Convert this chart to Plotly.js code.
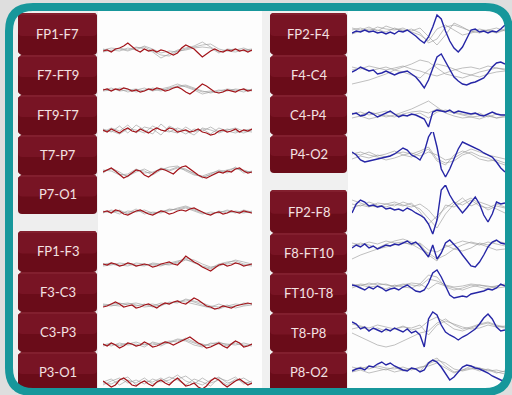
<!DOCTYPE html>
<html><head><meta charset="utf-8">
<script src="https://cdn.plot.ly/plotly-3.0.1.min.js"></script>
<style>html,body{margin:0;padding:0;background:#dedede;}#chart{width:512px;height:395px;}</style>
</head><body><div id="chart"></div>
<script>
// ---- channel names ----
const leftChannels = ['FP1-F7','F7-FT9','FT9-T7','T7-P7','P7-O1','FP1-F3','F3-C3','C3-P3','P3-O1'];
const rightChannels = ['FP2-F4','F4-C4','C4-P4','P4-O2','FP2-F8','F8-FT10','FT10-T8','T8-P8','P8-O2'];

// ---- highlighted trace values (37 samples each) ----
const fp1f7  = [-1,0,-2,1,2,4,7,3,0,-2,1,-1,0,-2,0,-1,-3,-5,-3,2,5,3,1,-3,-7,-4,-1,1,-1,-2,0,-1,1,-1,0,-2,0];
const f7ft9  = [0,1,-1,1,0,2,1,-1,0,-2,-1,1,0,2,1,-1,0,2,3,1,-2,-4,-1,3,6,4,1,-2,-3,-2,0,-1,-2,0,1,-1,0];
const ft9t7  = [1,-1,2,0,-2,1,3,0,-1,2,0,-2,1,3,1,0,3,2,-1,0,1,-1,0,2,-1,-2,-4,-3,0,1,-1,0,2,-1,1,0,2];
const t7p7   = [0,2,4,1,-3,-6,-4,-1,2,1,-3,-5,-2,1,3,2,0,-2,2,5,6,3,0,-3,-5,-6,-4,-2,0,-1,1,0,3,4,1,-1,0];
const p7o1   = [0,1,-1,2,1,-2,-3,-1,1,2,0,-2,-3,-1,1,0,-2,-1,1,2,1,3,4,2,0,-2,-3,-1,0,-2,-1,1,0,-1,1,0,-1];
const fp1f3  = [1,0,2,1,-1,0,2,1,-1,0,1,0,-2,-1,1,2,3,1,0,4,9,6,3,1,-2,-4,-6,-3,0,1,-1,0,2,1,-1,0,1];
const f3c3   = [-2,-1,1,3,1,-2,-1,0,-3,-2,0,1,-1,-3,0,2,1,3,4,2,1,4,7,5,2,-1,-2,-4,-3,-1,-2,-3,-1,0,1,2,1];
const c3p3   = [1,-1,2,0,-3,-1,2,1,-1,0,3,1,-2,-1,1,3,2,0,2,4,6,8,5,2,0,-3,-2,0,2,-1,-3,1,4,2,-2,-1,1];
const p3o1   = [2,-1,-4,-2,3,5,2,-2,-3,0,2,-1,-3,1,3,0,-2,2,5,1,-3,-2,0,-4,-6,-3,2,5,3,-1,-4,-1,2,4,1,-2,0];
const fp2f4  = [0,2,1,3,1,2,0,1,-1,1,-1,2,1,3,0,-3,-7,-10,-4,6,18,14,2,-8,-15,-19,-14,-5,3,4,1,2,0,2,1,4,8];
const f4c4   = [0,2,5,3,1,2,-2,-1,1,-1,-3,-1,0,1,-2,-5,-10,-16,-8,4,15,18,10,2,-5,-9,-12,-13,-11,-10,-8,-6,-1,5,9,10,8];
const c4p4   = [1,2,-1,0,3,1,-2,0,2,4,1,-2,0,-1,1,0,-2,-4,-12,3,5,4,3,5,2,4,3,2,1,2,0,-1,1,3,1,0,0];
const p4o2   = [5,2,-3,-5,-4,-3,-2,-1,0,1,3,6,9,7,2,0,-3,5,20,27,10,-12,-20,-12,-2,8,15,13,11,9,7,4,2,0,-5,-11,-15];
const fp2f8  = [-3,6,10,8,4,5,3,4,1,2,0,1,-1,2,0,-3,-5,-8,-14,-24,-10,20,25,15,8,2,-3,2,8,13,6,-5,-12,-4,8,6,7];
const f8ft10 = [-1,2,0,3,-1,1,-2,0,2,1,3,2,4,6,3,5,1,-4,-10,2,-12,-6,4,7,3,-2,-8,-14,-19,-20,-15,-8,0,5,7,4,3];
const ft10t8 = [2,1,-1,-3,0,-2,1,-1,-4,-2,-1,-3,0,2,-1,-4,-5,-3,4,14,17,10,1,-8,-11,-10,-9,-10,-7,-6,-5,-4,-2,-3,-1,3,1];
const t8p8   = [5,3,-2,0,-4,-1,-3,-5,-2,-4,-1,-3,-5,-2,-6,-4,-8,-20,8,15,12,2,-5,-8,-10,-13,-10,-8,-5,-2,3,9,13,8,0,-4,-3];
const p8o2   = [-3,-1,0,-2,2,1,4,6,3,5,2,0,-2,-3,0,-1,-4,-2,5,8,6,1,-6,-12,-9,-4,1,3,2,0,-1,-3,-5,-8,-10,-12,-13];

// ---- grey overlay traces (19 samples each) ----
const fp1f7Grey  = [[1,-1,2,0,3,1,-2,-8,-4,0,2,4,8,3,-2,0,1,-1,0],[-2,0,-1,2,0,4,1,-3,-1,-2,1,3,5,6,1,-1,-2,0,1],[0,2,1,-1,2,3,-1,-5,-6,-1,0,2,3,2,-3,1,0,2,-1]];
const f7ft9Grey  = [[1,-1,2,1,-2,0,1,-1,2,4,5,2,-1,-3,-1,1,0,-2,1],[-1,0,1,-2,0,2,-1,1,3,6,3,0,-4,-2,0,-1,1,0,-1],[0,2,-1,0,1,-1,2,0,1,3,4,1,-2,-1,-3,0,-1,1,0]];
const ft9t7Grey  = [[2,-1,5,-2,6,1,-3,7,0,-2,4,-1,2,-3,3,0,-2,1,2],[-1,3,0,6,-2,4,2,-4,5,1,-3,2,0,4,-1,2,0,-2,1],[1,0,-3,2,1,-2,5,1,-1,3,0,-4,3,1,-2,1,3,0,-1]];
const t7p7Grey   = [[1,3,-2,-4,0,3,-1,4,2,5,3,-2,-5,-3,0,2,4,1,0],[-1,4,0,-5,2,1,-3,2,5,6,1,-3,-4,-1,1,-1,3,2,-1],[2,1,-3,-2,3,-1,0,3,1,4,2,-1,-6,-2,2,0,5,-1,1]];
const p7o1Grey   = [[1,-1,2,-2,1,0,-2,1,2,3,5,2,-1,-2,0,1,-1,2,0],[-1,2,0,-1,3,-2,0,-1,3,2,4,1,-2,0,-1,2,0,-1,1],[0,1,-2,1,0,2,-1,0,1,4,6,3,0,-3,1,-1,1,0,-1]];
const fp1f3Grey  = [[1,2,0,-1,2,1,0,-1,2,4,6,2,-1,-3,1,3,4,1,0],[-1,0,2,1,-1,0,1,0,1,3,7,5,1,-2,-1,2,5,3,1],[0,1,-1,2,0,-1,2,1,0,2,5,3,-2,-4,0,1,2,0,-1]];
const f3c3Grey   = [[-1,1,2,0,-1,1,-2,0,2,3,5,3,0,-2,1,-2,-1,2,1],[0,-1,1,2,0,-2,-1,2,1,4,3,1,-1,-3,-4,-1,1,0,2],[1,0,-1,1,2,0,1,-1,3,2,6,4,2,-1,-2,0,-3,-1,0]];
const c3p3Grey   = [[0,2,-1,1,3,0,2,-1,3,6,5,2,-1,1,3,0,2,-1,1],[1,-1,2,0,1,-2,3,1,2,5,4,0,-2,2,1,-1,4,0,-1],[-1,1,0,2,-1,1,0,2,4,3,7,3,1,-1,2,1,0,2,0]];
const p3o1Grey   = [[1,4,-2,3,0,5,-1,2,6,3,-2,4,1,-3,5,2,6,-1,2],[-2,2,5,0,3,-1,4,1,3,8,2,-1,5,0,3,-2,4,1,-1],[0,-1,3,6,-2,2,1,5,0,4,7,1,-2,3,6,0,2,5,0]];
const fp2f4Grey  = [[3,5,2,6,4,3,5,1,-2,-8,4,8,3,-2,0,2,3,1,4],[-1,2,4,3,1,5,2,4,0,-10,-6,6,8,5,2,0,3,5,2],[5,3,6,2,7,4,3,2,5,-4,-12,-2,10,6,1,4,2,0,3]];
const f4c4Grey   = [[-12,-10,-8,-5,-2,2,5,8,12,10,4,-2,-4,-6,-3,0,2,4,3],[2,4,1,3,5,2,0,-3,-6,2,8,6,3,-1,-3,-5,-2,0,1],[5,3,6,4,2,4,6,3,1,-2,-4,-1,2,4,5,3,6,4,2]];
const c4p4Grey   = [[2,0,3,1,-2,0,3,6,10,14,8,2,-1,-3,-2,-4,-1,-3,-2],[-3,-1,-4,-2,0,-2,1,3,4,2,6,4,2,0,-2,-1,0,-3,-1],[1,3,0,2,4,1,-1,0,2,-3,3,5,3,1,0,2,-2,1,0]];
const p4o2Grey   = [[4,2,5,1,3,6,2,0,4,8,-4,-8,2,6,3,-2,-4,-3,-6],[-2,1,-1,2,0,3,5,3,6,10,-2,-6,-4,2,5,1,-1,-5,-8],[3,5,2,0,-3,-1,2,4,1,5,2,-3,-1,4,8,5,2,0,-2]];
const fp2f8Grey  = [[6,4,8,5,3,6,4,7,-2,-14,-6,2,8,5,10,4,2,6,3],[2,5,3,7,6,4,8,5,1,-8,-18,-4,6,12,4,8,5,1,-3],[10,7,4,3,6,8,5,3,6,0,-10,5,3,8,12,6,0,4,2]];
const f8ft10Grey = [[-12,-8,-5,-2,0,2,4,3,-2,-6,-12,-8,-2,2,5,3,0,-3,-2],[4,2,5,3,6,4,5,2,4,-3,-5,0,3,6,4,2,5,3,1],[1,4,2,-1,3,6,8,5,3,-8,-14,2,-2,-4,-1,4,2,6,4]];
const ft10t8Grey = [[1,3,2,4,2,1,3,2,1,8,6,2,0,1,3,2,0,1,2],[3,1,4,2,3,0,2,4,3,12,10,0,-3,-1,2,0,-2,1,3],[-1,2,0,1,-2,2,0,-1,3,-2,4,1,-1,-3,0,2,1,-1,0]];
const t8p8Grey   = [[-6,-10,-14,-18,-20,-18,-14,-10,-6,-4,4,8,2,-2,0,3,5,2,0],[3,1,-1,2,0,-2,1,-3,-1,6,10,4,-2,-4,-1,2,4,1,-1],[-2,0,-3,-1,-4,-2,0,-1,2,-8,2,6,3,0,-2,-1,2,0,1]];
const p8o2Grey   = [[-4,-2,-5,-3,-1,-4,-2,0,-3,6,10,2,-4,-2,0,-3,-1,-4,-6],[1,-1,2,0,-2,1,-3,-1,0,4,8,5,-1,-3,-1,0,-2,-5,-3],[-2,1,-1,2,0,-1,1,-2,1,2,5,0,-5,-2,2,0,-3,-2,-4]];

const leftMain  = [fp1f7,f7ft9,ft9t7,t7p7,p7o1,fp1f3,f3c3,c3p3,p3o1];
const leftGrey  = [fp1f7Grey,f7ft9Grey,ft9t7Grey,t7p7Grey,p7o1Grey,fp1f3Grey,f3c3Grey,c3p3Grey,p3o1Grey];
const rightMain = [fp2f4,f4c4,c4p4,p4o2,fp2f8,f8ft10,ft10t8,t8p8,p8o2];
const rightGrey = [fp2f4Grey,f4c4Grey,c4p4Grey,p4o2Grey,fp2f8Grey,f8ft10Grey,ft10t8Grey,t8p8Grey,p8o2Grey];

// ---- layout geometry (pixels) ----
const W = 512, H = 395;
const leftCenters  = [50,90,131,172,212,265,305,345,383];
const rightCenters = [33,72,115,157,210,247,287,327,368];
const leftBoxes  = [[13,55],[55,95],[95,135],[135,175],[175,214],[231,272],[272,312],[312,352],[352,392]];
const rightBoxes = [[13,55],[55,95],[95,135],[135,173],[190,233],[233,273],[273,313],[313,352],[352,392]];
const HALF = 25;

const X = p => p / W, Y = p => 1 - p / H;
function rr(x0,y0,x1,y1,r){
  const rx=r/W, ry=r/H, a=X(x0), b=X(x1), t=Y(y0), u=Y(y1);
  return `M${a+rx},${t} L${b-rx},${t} Q${b},${t} ${b},${t-ry} L${b},${u+ry} Q${b},${u} ${b-rx},${u} L${a+rx},${u} Q${a},${u} ${a},${u+ry} L${a},${t-ry} Q${a},${t} ${a+rx},${t} Z`;
}

const idx37 = leftMain[0].map((_, i) => i);
const idx19 = leftGrey[0][0].map((_, i) => i * 2);

const traces = [];
const layout = {
  width: W, height: H, margin: {l:0,r:0,t:0,b:0},
  paper_bgcolor: '#dedede', plot_bgcolor: 'rgba(0,0,0,0)', showlegend: false,
  xaxis:  {domain:[X(103),X(252)], range:[0,36], visible:false, fixedrange:true, anchor:'y'},
  xaxis2: {domain:[X(352),X(505)], range:[0,36], visible:false, fixedrange:true, anchor:'y10'},
  shapes: [], annotations: []
};

function addChannel(k, xa, c, main, greys, color, lw){
  const yn = k === 1 ? 'y' : 'y' + k;
  const key = k === 1 ? 'yaxis' : 'yaxis' + k;
  const top = c - HALF, bot = Math.min(H, c + HALF);
  layout[key] = {domain:[1 - bot/H, 1 - top/H], range:[-(bot - c), c - top], visible:false, fixedrange:true, anchor:xa};
  greys.forEach(g => traces.push({x: idx19, y: g, xaxis: xa, yaxis: yn, type:'scatter', mode:'lines',
    line:{color:'rgba(155,155,155,0.7)', width:0.9}, hoverinfo:'skip'}));
  traces.push({x: idx37, y: main, xaxis: xa, yaxis: yn, type:'scatter', mode:'lines',
    line:{color:color, width:lw}, hoverinfo:'skip'});
}
leftMain.forEach((m,i) => addChannel(i+1, 'x', leftCenters[i], m, leftGrey[i], '#a3141a', 1.2));
rightMain.forEach((m,i) => addChannel(i+10, 'x2', rightCenters[i], m, rightGrey[i], '#2626a6', 1.4));

// ---- frame ----
const S = layout.shapes;
S.push({type:'path', xref:'paper', yref:'paper', path: rr(9,7,509,392,24), fillcolor:'#fdfdfd', line:{width:0}, layer:'below'});
S.push({type:'rect', xref:'paper', yref:'paper', x0:X(13), x1:X(98), y0:Y(391), y1:Y(11), fillcolor:'#eeeeee', line:{width:0}, layer:'below'});
S.push({type:'rect', xref:'paper', yref:'paper', x0:X(262), x1:X(348), y0:Y(391), y1:Y(11), fillcolor:'#f0f0f0', line:{width:0}, layer:'below'});

function addBoxes(boxes, names, x0, x1){
  boxes.forEach((b,i) => {
    S.push({type:'path', xref:'paper', yref:'paper', path: rr(x0,b[0],x1,b[1],4), fillcolor:'#6a0c19', line:{width:0}, layer:'below'});
    S.push({type:'path', xref:'paper', yref:'paper', path: rr(x0,b[0],x1,b[0]+(b[1]-b[0])*0.55,4), fillcolor:'#781424', line:{width:0}, layer:'below'});
    S.push({type:'rect', xref:'paper', yref:'paper', x0:X(x0+2), x1:X(x1-1), y0:Y(b[0]+1.5), y1:Y(b[0]+0.5), fillcolor:'#8c2a38', line:{width:0}, layer:'below'});
    if (i > 0 && boxes[i-1][1] === b[0]) {
      S.push({type:'path', xref:'paper', yref:'paper', path:`M${X(x0-0.5)},${Y(b[0]-3)} L${X(x0+3)},${Y(b[0])} L${X(x0-0.5)},${Y(b[0]+3)} Z`, fillcolor:'#f2f2f2', line:{width:0}, layer:'below'});
    }
    layout.annotations.push({xref:'paper', yref:'paper', x:X((x0+x1)/2), y:Y((b[0]+b[1])/2), text:names[i], showarrow:false,
      xanchor:'center', yanchor:'middle', font:{family:'Lato, "Open Sans", sans-serif', size:13, color:'#f4e2e2'}});
  });
}
addBoxes(leftBoxes, leftChannels, 18, 97);
addBoxes(rightBoxes, rightChannels, 270, 347);

S.push({type:'path', xref:'paper', yref:'paper', path: rr(9,7,509,392,24), fillcolor:'rgba(0,0,0,0)', line:{color:'#17979b', width:8}, layer:'above'});

Plotly.newPlot('chart', traces, layout, {staticPlot:true, displayModeBar:false});
</script></body></html>
